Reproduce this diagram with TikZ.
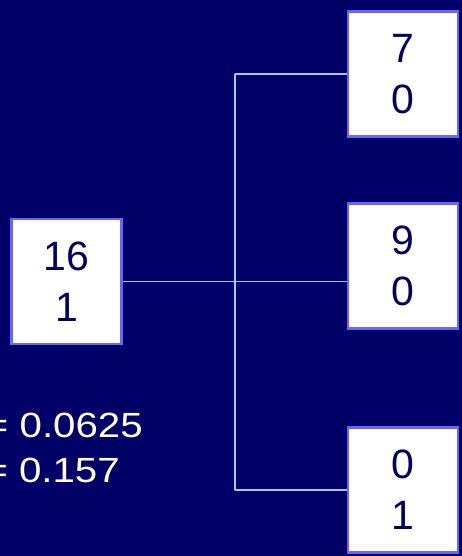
\documentclass[tikz,border=0pt]{standalone}
\usepackage{fontspec}
\setmainfont{Liberation Sans}
\definecolor{bg}{HTML}{000066}
\definecolor{boxedge}{HTML}{6666FF}
\definecolor{wire}{HTML}{99CCFF}
\begin{document}
\begin{tikzpicture}[x=1bp,y=-1bp,
  numbox/.style={draw=boxedge, line width=2.5bp, fill=white, text=bg,
    minimum width=110bp, minimum height=125bp, inner sep=0pt, align=center,
    font=\fontsize{41bp}{51bp}\selectfont},
  wireline/.style={draw=wire, line width=1.6bp},
  prob/.style={text=white, inner sep=0pt, xscale=1.15, font=\fontsize{35bp}{40bp}\selectfont}]
\fill[bg] (0,0) rectangle (462,556);
\useasboundingbox (0,0) rectangle (462,556);
\node[numbox] (root) at (66.5,281.5) {16\\1};
\node[numbox] (top) at (403,74) {7\\0};
\node[numbox] (mid) at (403,266) {9\\0};
\node[numbox] (bot) at (403,490) {0\\1};
\coordinate (jt) at (235,74);
\coordinate (jb) at (235,490);
\draw[wireline] (jt) -- (jb);
\draw[wireline] (jt) -- (top.west);
\draw[wireline] (jb) -- (bot.west);
\draw[wireline] (root.east) -- (root.east -| mid.west);
\node[prob, anchor=base east] (p1) at (143,437) {= 0.0625};
\node[prob, anchor=base east] (p2) at (120,482) {= 0.157};
\end{tikzpicture}
\end{document}
